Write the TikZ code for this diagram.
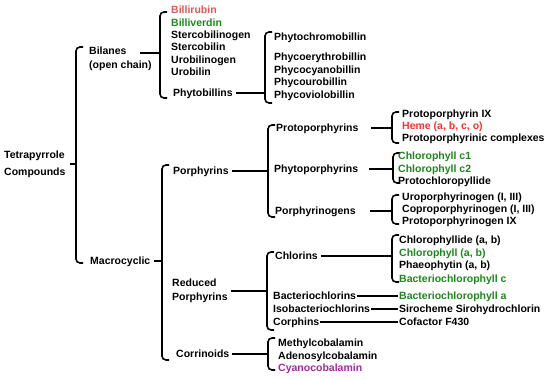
\documentclass[tikz,border=0pt]{standalone}
\usepackage{fontspec}
\setmainfont{Liberation Sans}
\definecolor{rubred}{RGB}{222,90,90}
\definecolor{hemered}{RGB}{250,50,50}
\definecolor{chlgreen}{RGB}{30,135,30}
\definecolor{cobpurple}{RGB}{165,40,165}
\tikzset{
    item/.style={anchor=west, inner sep=1pt, font=\bfseries\fontsize{10.5}{12}\selectfont, text height=7.5pt, text depth=1pt},
    head/.style={anchor=west, inner sep=1pt, align=left, font=\bfseries\fontsize{10.5}{14}\selectfont},
    wide/.style={text width=92pt},
    brace/.style={line width=1.6pt, rounded corners=4pt},
    link/.style={line width=1.6pt}
}
\begin{document}
\begin{tikzpicture}[x=1pt,y=-1pt]
                \useasboundingbox (0,0) rectangle (550,380);
                % brackets: name / x / top / bottom
                \foreach \n/\x/\t/\b in {tet/76/47/263, bil/160/12/98, phy/265/32/103, mac/162/165/360, por/268/125/217, pro/392/112/143, pht/393/153/183, pgn/392/195/224, red/267/252/330, chl/392/235/282, cor/268/338/370} {
                    \draw[brace] (\x+7,\t) -- (\x,\t) -- (\x,\b) -- (\x+7,\b);
                    \coordinate (br\n) at (\x,\t);
                }
                % heads
                \node[head] (tet) at (3,164) {Tetrapyrrole\\[3pt]Compounds};
                \node[head] (bil) at (88,59) {Bilanes\\(open chain)};
                \node[item] (mac) at (89,261) {Macrocyclic};
                \node[item] (por) at (172,171) {Porphyrins};
                \node[head] (red) at (171,291) {Reduced\\Porphyrins};
                \node[item] (cor) at (175,354) {Corrinoids};
                \node[item] (phy) at (172,93) {Phytobillins};
                \node[item, wide] (pro) at (275,128) {Protoporphyrins};
                \node[item, wide] (pht) at (273,169) {Phytoporphyrins};
                \node[item, wide] (pgn) at (274,211) {Porphyrinogens};
                \node[item] (chl) at (274,256) {Chlorins};
                \node[item] (bch) at (272,296) {Bacteriochlorins};
                \node[item] (ibc) at (272,309) {Isobacteriochlorins};
                \node[item] (cph) at (272,322) {Corphins};
                % leaves: name / x / y / text / colour
                \foreach \n/\x/\y/\t/\c in {rub/170/10/Billirubin/rubred, ver/170/23/Billiverdin/chlgreen,
                    scg/170/35/Stercobilinogen/black, scb/170/47/Stercobilin/black, ubg/170/60/Urobilinogen/black, ubl/170/72/Urobilin/black,
                    pcm/273/37/Phytochromobillin/black, pce/273/57/Phycoerythrobillin/black, pcc/273/70/Phycocyanobillin/black,
                    pcu/273/82/Phycourobillin/black, pcv/273/95/Phycoviolobillin/black,
                    ppix/401/114/{Protoporphyrin IX}/black, heme/401/126/{Heme (a, b, c, o)}/hemered, ppc/401/138/{Protoporphyrinic complexes}/black,
                    cc1/397/156/{Chlorophyll c1}/chlgreen, cc2/397/169/{Chlorophyll c2}/chlgreen, pcl/397/181/Protochloropyllide/black,
                    upg/401/197/{Uroporphyrinogen (I, III)}/black, cpg/401/209/{Coproporphyrinogen (I, III)}/black, ppg/401/221/{Protoporphyrinogen IX}/black,
                    cld/398/240/{Chlorophyllide (a, b)}/black, cab/398/253/{Chlorophyll (a, b)}/chlgreen, phe/398/265/{Phaeophytin (a, b)}/black,
                    bcc/398/279/{Bacteriochlorophyll c}/chlgreen,
                    bca/398/296/{Bacteriochlorophyll a}/chlgreen, sir/398/309/{Sirocheme Sirohydrochlorin}/black, f430/398/322/{Cofactor F430}/black,
                    mcb/277/343/Methylcobalamin/black, acb/277/356/Adenosylcobalamin/black, ccb/277/368/Cyanocobalamin/cobpurple} {
                    \node[item, text=\c] (\n) at (\x,\y) {\t};
                }
                % connectors
                \draw[link] ([xshift=3pt]tet.east) -- (tet.east -| brtet);
                \draw[link] ([shift={(-13pt,6pt)}]bil.east) coordinate (bilj) -- (bilj -| brbil);
                \foreach \n in {mac, por, red, cor, phy, pro, pht, pgn, chl} {
                    \draw[link] ([xshift=2pt]\n.east) -- (\n.east -| br\n);
                }
                \draw[link] (bch.east) -- (bca.west);
                \draw[link] (ibc.east) -- (sir.west);
                \draw[link] (cph.east) -- (f430.west);
            \end{tikzpicture}
\end{document}
